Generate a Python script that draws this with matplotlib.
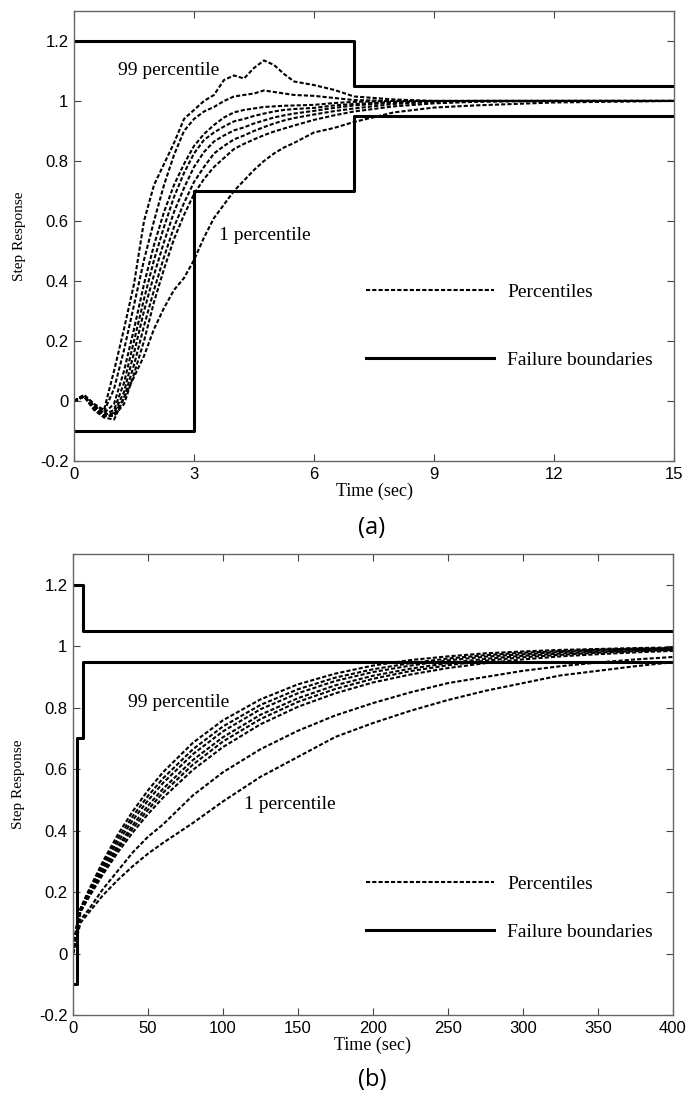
import matplotlib
matplotlib.use("Agg")
import matplotlib.pyplot as plt
from matplotlib.ticker import FuncFormatter

# ---- (a) short time scale ----
t_a = [0, 0.25, 0.5, 0.75, 1, 1.25, 1.5, 1.75, 2, 2.25, 2.5, 2.75, 3, 3.25, 3.5,
       3.75, 4, 4.25, 4.5, 4.75, 5, 5.25, 5.5, 6, 6.5, 7, 8, 9, 10, 12, 15]
a99 = [0, .02, -.01, -.03, .10, .24, .39, .60, .72, .79, .86, .94, .97, 1.0, 1.02,
       1.07, 1.085, 1.075, 1.11, 1.135, 1.12, 1.09, 1.065, 1.053, 1.037, 1.015, 1.005, 1.0, 1.0, 1.0, 1.0]
a95 = [0, .02, -.01, -.035, .04, .17, .32, .47, .60, .72, .82, .90, .94, .965, .98,
       1.0, 1.015, 1.02, 1.025, 1.035, 1.03, 1.025, 1.02, 1.017, 1.01, 1.003, 1.0, 1.0, 1.0, 1.0, 1.0]
a90 = [0, .015, -.015, -.04, -.01, .10, .24, .39, .52, .63, .72, .79, .85, .89, .92,
       .945, .962, .97, .975, .98, .982, .984, .985, .987, .993, .997, 1.0, 1.0, 1.0, 1.0, 1.0]
a75 = [0, .015, -.02, -.045, -.03, .06, .20, .34, .47, .58, .68, .76, .825, .87, .895,
       .915, .932, .94, .95, .958, .965, .97, .973, .977, .985, .99, .997, 1.0, 1.0, 1.0, 1.0]
a50 = [0, .015, -.02, -.045, -.04, .03, .16, .30, .42, .53, .63, .71, .78, .83, .865,
       .885, .902, .912, .925, .935, .945, .952, .958, .967, .977, .985, .995, .999, 1.0, 1.0, 1.0]
a25 = [0, .015, -.025, -.05, -.045, .01, .12, .25, .37, .48, .58, .66, .73, .78, .825,
       .85, .872, .885, .90, .913, .925, .935, .943, .955, .966, .975, .99, .997, 1.0, 1.0, 1.0]
a10 = [0, .015, -.025, -.05, -.05, -.01, .09, .20, .33, .44, .54, .62, .69, .74, .78,
       .81, .84, .857, .872, .886, .898, .908, .918, .937, .952, .965, .982, .992, .997, 1.0, 1.0]
a01 = [0, .015, -.03, -.055, -.062, .01, .08, .15, .24, .31, .37, .41, .47, .545, .61,
       .655, .70, .735, .77, .80, .825, .845, .86, .895, .91, .93, .962, .978, .985, .995, 1.0]

bound_a_t = [0, 3, 7, 15]
upper_a = [1.2, 1.2, 1.05, 1.05]
lower_a = [-0.1, 0.7, 0.95, 0.95]

# ---- (b) long time scale ----
t_b = [0, 2, 5, 10, 20, 30, 40, 50, 60, 80, 100, 125, 150, 175, 200, 225, 250,
       275, 300, 325, 350, 375, 400]
b99 = [0, .08, .147, .201, .30, .388, .464, .531, .59, .686, .759, .827, .876, .911,
       .937, .955, .967, .977, .983, .988, .991, .994, .996]
b95 = [0, .075, .145, .197, .291, .375, .448, .513, .57, .665, .739, .809, .86, .898,
       .925, .945, .96, .971, .979, .984, .989, .992, .994]
b90 = [0, .07, .143, .192, .283, .363, .435, .498, .555, .649, .723, .795, .847, .887,
       .916, .937, .954, .966, .974, .981, .986, .99, .992]
b75 = [0, .065, .14, .187, .273, .35, .419, .481, .536, .63, .704, .777, .831, .873,
       .904, .927, .945, .959, .969, .976, .982, .987, .99]
b50 = [0, .06, .138, .183, .266, .341, .408, .468, .523, .615, .69, .763, .819, .861,
       .894, .919, .938, .953, .964, .972, .979, .984, .988]
b25 = [0, .055, .135, .178, .258, .33, .395, .454, .507, .598, .672, .746, .803, .847,
       .882, .908, .929, .945, .957, .967, .974, .98, .985]
b10 = [0, .05, .11, .14, .21, .27, .33, .38, .42, .515, .59, .665, .725, .775,
       .815, .85, .88, .90, .92, .935, .947, .957, .965]
b01 = [0, .04, .10, .13, .19, .24, .285, .325, .36, .425, .495, .575, .64, .705,
       .75, .79, .825, .855, .88, .905, .92, .935, .948]

bound_b_t = [0, 3, 7, 400]
upper_b = [1.2, 1.2, 1.05, 1.05]
lower_b = [-0.1, 0.7, 0.95, 0.95]

serif = "Liberation Serif"
sans = "Liberation Sans"
dash = (0, (2, 1))


def draw_panel(ax, t, curves, bt, upper, lower, xticks, xmax, lab99, lab01, leg_x, leg_y, leg_sp):
    for c in curves:
        ax.plot(t, c, color="black", lw=1.5, linestyle=dash)
    h_b, = ax.step(bt, upper, where="post", color="black", lw=2.2)
    ax.step(bt, lower, where="post", color="black", lw=2.2)
    h_p = plt.Line2D([], [], color="black", lw=1.5, linestyle=dash)
    ax.set_xlim(0, xmax)
    ax.set_ylim(-0.2, 1.3)
    ax.set_xticks(xticks)
    ax.set_yticks([-0.2, 0, 0.2, 0.4, 0.6, 0.8, 1.0, 1.2])
    ax.yaxis.set_major_formatter(FuncFormatter(lambda v, p: "%g" % round(v, 2)))
    ax.tick_params(direction="in", top=True, right=True, length=5, width=0.8,
                   color="#444444", labelsize=12, pad=4)
    for lab in ax.get_xticklabels() + ax.get_yticklabels():
        lab.set_family(sans)
    for s in ax.spines.values():
        s.set_color("#666666")
        s.set_linewidth(1.0)
    ax.set_xlabel("Time (sec)", family=serif, fontsize=13, labelpad=1)
    ax.set_ylabel("Step Response", family=serif, fontsize=11)
    ax.yaxis.set_label_coords(-0.08, 0.5)
    ax.text(lab99[0], lab99[1], "99 percentile", family=serif, fontsize=14, va="center")
    ax.text(lab01[0], lab01[1], "1 percentile", family=serif, fontsize=14, va="center")
    ax.legend([h_p, h_b], ["Percentiles", "Failure boundaries"], loc="center left",
              bbox_to_anchor=(leg_x, leg_y), frameon=False, handlelength=6.6,
              handletextpad=0.67, labelspacing=leg_sp,
              prop={"family": serif, "size": 14})


fig = plt.figure(figsize=(6.86, 10.96), dpi=100)
ax1 = fig.add_axes([0.1079, 0.5794, 0.8746, 0.4106])
ax2 = fig.add_axes([0.1064, 0.0739, 0.8746, 0.4206])

draw_panel(ax1, t_a, [a99, a95, a90, a75, a50, a25, a10, a01], bound_a_t, upper_a, lower_a,
           [0, 3, 6, 9, 12, 15], 15, (1.1, 1.1), (3.63, 0.55), 0.4575, 0.300, 2.6)
draw_panel(ax2, t_b, [b99, b95, b90, b75, b50, b25, b10, b01], bound_b_t, upper_b, lower_b,
           [0, 50, 100, 150, 200, 250, 300, 350, 400], 400, (37, 0.818), (114, 0.484), 0.459, 0.232, 1.55)

fig.text(372 / 686, 1 - 528 / 1096, "(a)", family="Open Sans", fontsize=17, ha="center", va="center")
fig.text(372 / 686, 1 - 1080 / 1096, "(b)", family="Open Sans", fontsize=17, ha="center", va="center")

fig.savefig("out.png", dpi=100)
